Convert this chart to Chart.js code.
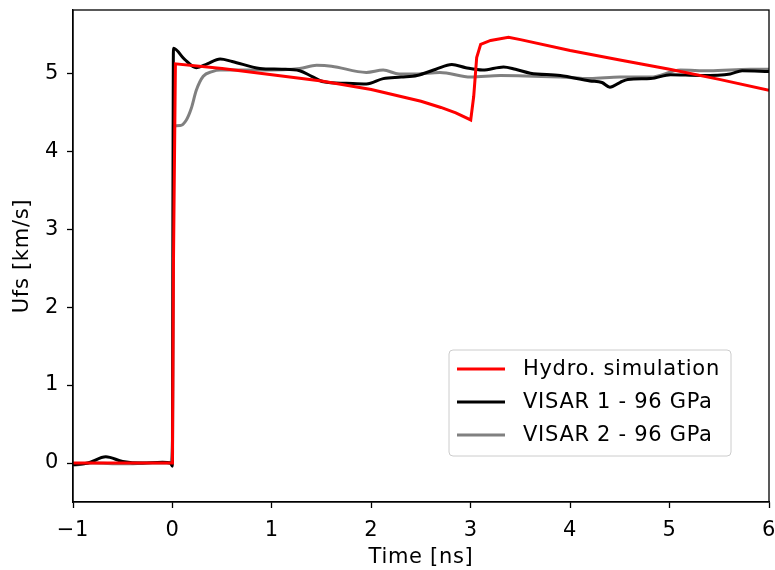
<!DOCTYPE html>
<html>
<head>
<meta charset="utf-8">
<script src="https://cdn.jsdelivr.net/npm/chart.js@4/dist/chart.umd.min.js"></script>
<style>
  html, body { margin: 0; padding: 0; background: #fff; }
  #wrap { width: 775px; height: 570px; }
</style>
</head>
<body>
<div id="wrap"><canvas id="chart" width="775" height="570"></canvas></div>
<script>
// time [ns], Ufs [km/s]
const hydroT = [-1, -0.5, 0, 0.01, 0.03, 0.5, 1.0, 1.5, 2.0, 2.5, 2.7, 2.85, 3.0, 3.03, 3.06, 3.1, 3.2, 3.38, 3.5, 4.0, 4.5, 5.0, 5.5, 6.0];
const hydroV = [0, 0, 0, 2.5, 5.12, 5.06, 4.98, 4.90, 4.79, 4.64, 4.56, 4.49, 4.40, 4.7, 5.2, 5.37, 5.42, 5.46, 5.43, 5.29, 5.17, 5.05, 4.92, 4.78];

const visar1T = [-1, -0.85, -0.67, -0.5, -0.3, -0.1, -0.02, 0.0, 0.01, 0.12, 0.24, 0.35, 0.48, 0.6, 0.88, 1.1, 1.28, 1.4, 1.52, 1.75, 1.95, 2.12, 2.3, 2.46, 2.65, 2.81, 2.95, 3.12, 3.33, 3.45, 3.6, 3.9, 4.2, 4.32, 4.4, 4.5, 4.58, 4.81, 5.01, 5.31, 5.61, 5.73, 6.0];
const visar1V = [-0.02, 0.0, 0.08, 0.02, 0.0, 0.01, 0.0, -0.04, 5.32, 5.18, 5.07, 5.12, 5.18, 5.15, 5.06, 5.05, 5.03, 4.96, 4.89, 4.87, 4.86, 4.93, 4.95, 4.97, 5.05, 5.11, 5.07, 5.04, 5.08, 5.05, 5.00, 4.97, 4.90, 4.88, 4.82, 4.88, 4.92, 4.93, 4.98, 4.97, 4.99, 5.03, 5.02];

const visar2T = [-1, -0.8, -0.5, -0.2, -0.02, 0.0, 0.01, 0.08, 0.14, 0.19, 0.24, 0.31, 0.4, 0.48, 0.88, 1.28, 1.45, 1.6, 1.95, 2.12, 2.28, 2.45, 2.69, 3.0, 3.3, 3.9, 4.2, 4.5, 4.81, 5.11, 5.4, 5.81, 6.0];
const visar2V = [-0.03, 0.0, -0.01, 0.0, 0.0, 0.3, 4.32, 4.33, 4.4, 4.55, 4.78, 4.96, 5.02, 5.04, 5.04, 5.06, 5.10, 5.09, 5.01, 5.04, 4.99, 4.99, 5.01, 4.95, 4.97, 4.95, 4.93, 4.95, 4.95, 5.04, 5.03, 5.05, 5.05];

const seriesLabels = ["Hydro. simulation", "VISAR 1 - 96 GPa", "VISAR 2 - 96 GPa"];
const xTicks = [-1, 0, 1, 2, 3, 4, 5, 6];
const yTicks = [0, 1, 2, 3, 4, 5];

const FONT = "'DejaVu Sans', sans-serif";
const FS = 21;
const toPts = (t, v) => t.map((x, i) => ({ x, y: v[i] }));
const fmt = (v) => (v < 0 ? "\u2212" + Math.abs(v) : String(v));

// slightly wider text, like the matplotlib render
const spacingPlugin = {
  id: "spacing",
  beforeDraw(chart) { chart.ctx.letterSpacing = "0.7px"; },
};

// top/right spines
const framePlugin = {
  id: "frame",
  afterDraw(chart) {
    const { ctx, chartArea: a } = chart;
    ctx.save();
    ctx.strokeStyle = "#000";
    ctx.lineWidth = 1.3;
    ctx.strokeRect(a.left, a.top, a.right - a.left, a.bottom - a.top);
    ctx.restore();
  },
};

// matplotlib-like legend, lower right
const legendPlugin = {
  id: "mplLegend",
  afterDraw(chart) {
    const { ctx, chartArea: a } = chart;
    const w = 282, h = 106;
    const x = a.right - 38 - w, y = a.bottom - 46 - h;
    ctx.save();
    ctx.beginPath();
    ctx.roundRect(x, y, w, h, 4);
    ctx.fillStyle = "rgba(255,255,255,0.8)";
    ctx.fill();
    ctx.strokeStyle = "#cccccc";
    ctx.lineWidth = 1;
    ctx.stroke();
    ctx.font = FS + "px " + FONT;
    ctx.textBaseline = "middle";
    chart.data.datasets.forEach((ds, i) => {
      const cy = y + 19 + i * 33;
      ctx.beginPath();
      ctx.moveTo(x + 8, cy);
      ctx.lineTo(x + 56, cy);
      ctx.strokeStyle = ds.borderColor;
      ctx.lineWidth = 3;
      ctx.stroke();
      ctx.fillStyle = "#000";
      ctx.fillText(ds.label, x + 74, cy + 1);
    });
    ctx.restore();
  },
};

new Chart(document.getElementById("chart"), {
  type: "line",
  data: {
    datasets: [
      { label: seriesLabels[0], data: toPts(hydroT, hydroV), borderColor: "#ff0000", tension: 0 },
      { label: seriesLabels[1], data: toPts(visar1T, visar1V), borderColor: "#000000", cubicInterpolationMode: "monotone" },
      { label: seriesLabels[2], data: toPts(visar2T, visar2V), borderColor: "#808080", cubicInterpolationMode: "monotone" },
    ].map((d) => ({ ...d, borderWidth: 3, pointRadius: 0, fill: false })),
  },
  options: {
    responsive: false,
    animation: false,
    layout: { padding: { top: 10, right: 6, left: 0, bottom: 0 } },
    plugins: { legend: { display: false }, tooltip: { enabled: false } },
    scales: {
      x: {
        type: "linear",
        min: -1,
        max: 6,
        afterBuildTicks: (s) => { s.ticks = xTicks.map((v) => ({ value: v })); },
        afterFit: (s) => { s.height = 68; s.paddingLeft = 0; s.paddingRight = 0; },
        border: { display: true, color: "#000", width: 1.3 },
        grid: { display: true, drawOnChartArea: false, drawTicks: true, tickLength: 6, color: "#000", tickWidth: 1.3 },
        ticks: { color: "#000", font: { family: FONT, size: FS }, padding: 10, callback: fmt, maxRotation: 0 },
        title: { display: true, text: "Time [ns]", color: "#000", font: { family: FONT, size: FS }, padding: { top: 0, bottom: 0 } },
      },
      y: {
        type: "linear",
        min: -0.5,
        max: 5.81,
        afterBuildTicks: (s) => { s.ticks = yTicks.map((v) => ({ value: v })); },
        afterFit: (s) => { s.width = 73; s.paddingTop = 0; s.paddingBottom = 0; },
        border: { display: true, color: "#000", width: 1.3 },
        grid: { display: true, drawOnChartArea: false, drawTicks: true, tickLength: 6, color: "#000", tickWidth: 1.3 },
        ticks: { color: "#000", font: { family: FONT, size: FS }, padding: 8, callback: fmt },
        title: { display: true, text: "Ufs [km/s]", color: "#000", font: { family: FONT, size: FS }, padding: { top: 10, bottom: 0 } },
      },
    },
  },
  plugins: [spacingPlugin, framePlugin, legendPlugin],
});
</script>
</body>
</html>
